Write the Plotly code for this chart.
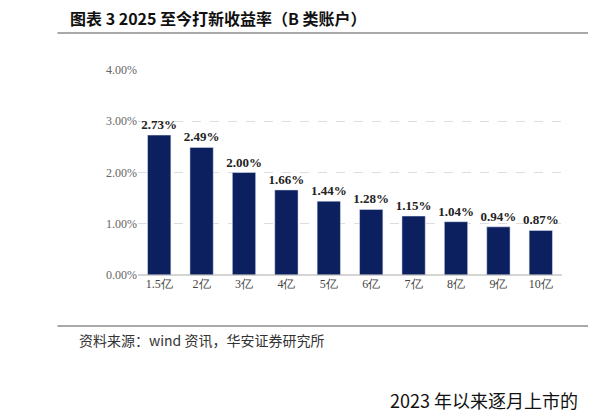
import plotly.graph_objects as go

categories = ["1.5亿", "2亿", "3亿", "4亿", "5亿", "6亿", "7亿", "8亿", "9亿", "10亿"]
values = [2.73, 2.49, 2.00, 1.66, 1.44, 1.28, 1.15, 1.04, 0.94, 0.87]
tick_vals = [0, 1, 2, 3, 4]
tick_text = ["0.00%", "1.00%", "2.00%", "3.00%", "4.00%"]

H, T, B = 420, 62, 153
PH = H - T - B
def yp(py):
    return (H - (py - 8) - B) / PH

serif = "Times New Roman, Liberation Serif, serif"
fig = go.Figure(go.Bar(
    x=categories, y=values, marker_color="#0c2060", width=0.55,
    text=[f"<b>{v:.2f}%</b>" for v in values], textposition="outside",
    constraintext="none",
    textfont=dict(family=serif, size=13, color="#222222"), cliponaxis=False,
))
fig.update_layout(
    width=596, height=420, margin=dict(l=130, r=42, t=T, b=B),
    paper_bgcolor="white", plot_bgcolor="white", showlegend=False,
    xaxis=dict(tickfont=dict(family=serif, size=12, color="#444"), showline=False, ticks=""),
    yaxis=dict(range=[0, 4], tickvals=tick_vals, ticktext=tick_text,
               tickfont=dict(family=serif, size=12, color="#666"),
               gridcolor="#dddddd", griddash="dash", zeroline=False),
    shapes=[
        dict(type="line", xref="paper", yref="paper", x0=-0.19, x1=1.12, y0=yp(33), y1=yp(33),
             line=dict(color="#555", width=1.2)),
        dict(type="line", xref="paper", yref="paper", x0=-0.19, x1=1.12, y0=yp(326), y1=yp(326),
             line=dict(color="#555", width=1.2)),
        dict(type="line", xref="paper", yref="paper", x0=0, x1=1, y0=0, y1=0,
             line=dict(color="#aaa", width=1)),
    ],
    annotations=[
        dict(text="<b>图表 3 2025 至今打新收益率（B 类账户）</b>", xref="paper", yref="paper",
             x=-0.165, y=yp(18), xanchor="left", yanchor="middle", showarrow=False,
             font=dict(family="Noto Sans CJK SC", size=16, color="#111")),
        dict(text="资料来源：wind 资讯，华安证券研究所", xref="paper", yref="paper",
             x=-0.145, y=yp(340), xanchor="left", yanchor="middle", showarrow=False,
             font=dict(family="Noto Sans CJK SC", size=14, color="#333")),
        dict(text="2023 年以来逐月上市的", xref="paper", yref="paper",
             x=0.59, y=yp(400), xanchor="left", yanchor="middle", showarrow=False,
             font=dict(family="Noto Sans CJK SC", size=18, color="#111")),
    ],
)
fig.write_html("out.html")
